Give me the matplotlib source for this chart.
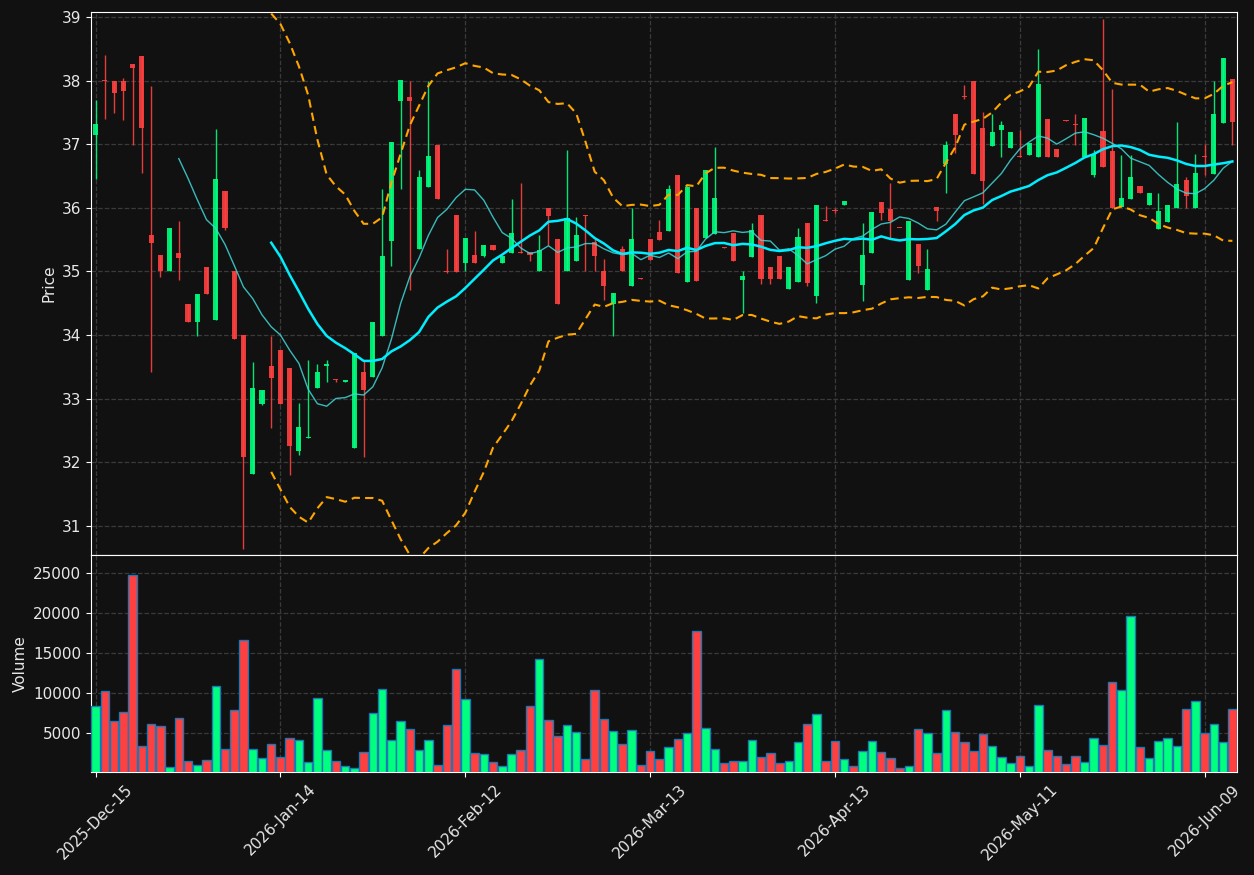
import numpy as np
import pandas as pd
import matplotlib
matplotlib.use("Agg")
import matplotlib.pyplot as plt

# ---------------- data ----------------
holidays = ["2025-12-25", "2026-01-01", "2026-01-19", "2026-02-16", "2026-04-03", "2026-05-25"]
dates = pd.bdate_range(start="2025-12-15", periods=124, freq="C", holidays=holidays)

opens = [37.15, 38.01, 38.00, 38.00, 38.26, 38.39, 35.57, 35.26, 35.00, 35.29,
         34.49, 34.21, 35.07, 34.23, 36.26, 35.00, 34.00, 31.81, 32.91, 33.52,
         33.77, 33.48, 32.17, 32.38, 33.17, 33.52, 33.31, 33.26, 32.22, 33.42,
         33.34, 33.99, 35.48, 37.68, 37.75, 35.36, 36.32, 36.99, 35.00, 35.88,
         35.14, 35.26, 35.25, 35.42, 35.14, 35.29, 35.31, 35.30, 35.00, 36.00,
         35.51, 35.00, 35.16, 35.88, 35.47, 35.00, 34.49, 35.35, 34.77, 34.89,
         35.51, 35.62, 35.64, 36.52, 34.84, 35.99, 35.52, 35.59, 35.38, 35.60,
         34.87, 35.23, 35.88, 35.07, 35.24, 34.73, 34.84, 35.76, 34.62, 35.81,
         35.96, 36.04, 36.11, 34.79, 35.29, 36.09, 35.98, 35.69, 34.86, 35.43,
         34.70, 36.01, 36.69, 37.47, 37.75, 37.99, 37.26, 36.98, 37.22, 36.94,
         36.81, 36.83, 36.80, 37.40, 36.92, 37.38, 37.32, 36.80, 36.51, 37.21,
         36.90, 36.02, 36.14, 36.34, 36.04, 35.67, 35.78, 36.00, 36.44, 36.00,
         36.81, 36.53, 37.33, 38.03]
highs = [37.70, 38.41, 38.00, 38.04, 38.26, 38.39, 37.92, 35.26, 35.68, 35.80,
         34.49, 34.64, 35.07, 37.24, 36.26, 35.00, 34.00, 33.57, 33.13, 33.98,
         33.77, 33.48, 32.93, 33.61, 33.54, 33.61, 33.31, 33.30, 33.72, 33.60,
         34.21, 36.30, 37.04, 38.01, 37.99, 36.59, 37.99, 36.99, 35.35, 35.88,
         35.53, 35.63, 35.42, 35.42, 35.25, 36.14, 36.39, 35.30, 35.58, 36.00,
         35.51, 36.91, 35.85, 35.88, 35.51, 35.20, 34.66, 35.40, 36.00, 34.89,
         35.51, 35.81, 36.36, 36.52, 36.35, 35.99, 36.59, 36.96, 35.38, 35.60,
         35.00, 35.76, 35.88, 35.07, 35.24, 35.07, 35.68, 35.76, 36.04, 36.03,
         36.00, 36.11, 36.11, 35.76, 35.93, 36.09, 36.39, 35.69, 35.79, 35.43,
         35.36, 36.01, 37.05, 37.47, 37.93, 37.99, 37.50, 37.48, 37.36, 37.20,
         37.23, 37.02, 38.50, 37.40, 36.92, 37.38, 37.47, 37.42, 36.91, 38.97,
         37.87, 36.83, 36.83, 36.34, 36.23, 36.23, 36.05, 37.35, 36.49, 36.85,
         37.00, 37.99, 38.36, 38.03]
lows = [36.46, 37.39, 37.49, 37.38, 36.99, 36.55, 33.42, 34.92, 35.00, 34.87,
        34.21, 33.99, 34.65, 34.23, 35.65, 33.94, 30.63, 31.81, 32.90, 32.54,
        32.91, 31.80, 32.12, 32.38, 33.16, 33.26, 33.26, 33.26, 32.22, 32.08,
        33.34, 33.99, 35.09, 36.30, 34.70, 35.36, 36.32, 36.14, 34.98, 34.99,
        35.00, 35.14, 35.22, 35.34, 35.14, 35.29, 35.29, 35.16, 35.00, 35.42,
        34.49, 35.00, 35.16, 35.00, 35.00, 34.55, 33.99, 35.00, 34.77, 34.88,
        35.18, 35.49, 35.64, 34.98, 34.84, 34.85, 35.52, 35.59, 35.37, 35.16,
        34.34, 35.23, 34.80, 34.80, 34.88, 34.73, 34.84, 34.77, 34.50, 35.79,
        35.92, 36.04, 36.10, 34.53, 35.29, 35.81, 35.53, 35.68, 34.86, 34.97,
        34.70, 35.80, 36.23, 36.86, 37.71, 36.53, 36.06, 36.98, 36.80, 36.94,
        36.80, 36.83, 36.80, 36.80, 36.80, 37.37, 36.99, 36.80, 36.48, 36.64,
        36.00, 36.02, 36.14, 36.23, 36.04, 35.67, 35.78, 36.00, 36.00, 36.00,
        36.52, 36.53, 37.33, 36.99]
closes = [37.32, 37.99, 37.80, 37.83, 38.20, 37.26, 35.45, 35.00, 35.68, 35.21,
          34.21, 34.64, 34.65, 36.46, 35.69, 33.94, 32.08, 33.17, 33.13, 33.32,
          32.91, 32.26, 32.56, 32.40, 33.42, 33.55, 33.30, 33.30, 33.72, 33.14,
          34.21, 35.24, 37.04, 38.01, 37.68, 36.49, 36.81, 36.14, 34.99, 34.99,
          35.53, 35.14, 35.42, 35.34, 35.25, 35.60, 35.29, 35.26, 35.33, 35.87,
          34.49, 35.84, 35.58, 35.87, 35.25, 34.77, 34.66, 35.00, 35.51, 34.88,
          35.18, 35.49, 36.29, 34.98, 36.32, 34.85, 36.59, 36.15, 35.37, 35.16,
          34.93, 35.65, 34.88, 34.88, 34.88, 35.07, 35.54, 34.82, 36.04, 35.79,
          35.95, 36.11, 36.10, 35.26, 35.93, 35.92, 35.79, 35.68, 35.79, 35.08,
          35.04, 35.95, 36.99, 37.14, 37.74, 36.53, 36.42, 37.20, 37.30, 37.20,
          36.80, 37.02, 37.95, 36.80, 36.80, 37.37, 37.30, 37.42, 36.84, 36.64,
          36.00, 36.15, 36.49, 36.23, 36.23, 35.95, 36.05, 36.38, 36.19, 36.55,
          36.80, 37.48, 38.36, 37.35]
volumes = [8460, 10330, 6500, 7630, 24750, 3380, 6130, 5960, 830, 6960,
           1580, 1000, 1710, 10960, 3000, 7960, 16630, 3000, 1880, 3630,
           2000, 4380, 4130, 1460, 9380, 2880, 1500, 880, 750, 2630,
           7500, 10500, 4130, 6500, 5500, 2880, 4130, 1000, 6000, 13000,
           9250, 2500, 2380, 1380, 880, 2380, 2880, 8460, 14250, 6630,
           4630, 6000, 5130, 1750, 10380, 6750, 5250, 3630, 5380, 1000,
           2750, 1750, 3250, 4250, 5000, 17750, 5630, 3000, 1250, 1500,
           1500, 4130, 2000, 2500, 1250, 1500, 3880, 6130, 7380, 1500,
           4000, 1750, 880, 2750, 4000, 2630, 1880, 630, 880, 5500,
           5000, 2500, 7880, 5130, 3880, 2750, 4880, 3380, 2000, 1250,
           2130, 880, 8500, 2880, 2130, 1130, 2130, 1380, 4380, 3500,
           11380, 10380, 19630, 3250, 1880, 4000, 4380, 3380, 8000, 9000,
           5000, 6130, 3880, 8000]

df = pd.DataFrame({"Open": opens, "High": highs, "Low": lows,
                   "Close": closes, "Volume": volumes}, index=dates)

# ---------------- style ----------------
BG = "#111111"
UP = "#00ff7f"
DOWN = "#ff4040"
GRID = "#3a3a3a"
TXT = "#e8e8e8"

plt.rcParams["font.family"] = ["DejaVu Sans"]

fig = plt.figure(figsize=(12.54, 8.75), dpi=100, facecolor=BG)
L, R = 91 / 1254, 1237 / 1254
y_top, y_mid, y_bot = 1 - 12 / 875, 1 - 555 / 875, 1 - 772 / 875
ax = fig.add_axes([L, y_mid, R - L, y_top - y_mid], facecolor=BG)
axv = fig.add_axes([L, y_bot, R - L, y_mid - y_bot], facecolor=BG, sharex=ax)

x = np.arange(len(df))
o = df["Open"].values
c = df["Close"].values
h = df["High"].values
lo = df["Low"].values
up = c >= o
cols = np.where(up, UP, DOWN)

# wicks
ax.vlines(x, lo, h, colors=cols, linewidth=1.0, alpha=0.9, zorder=3)
# bodies
body_bottom = np.minimum(o, c)
body_h = np.maximum(np.abs(c - o), 0.012)
ax.bar(x, body_h, bottom=body_bottom, width=0.55, color=cols, alpha=0.9,
       linewidth=0, zorder=4)

# moving averages and Bollinger bands
close_s = df["Close"]
sma10 = close_s.rolling(10).mean()
sma20 = close_s.rolling(20).mean()
std20 = close_s.rolling(20).std(ddof=0)
ax.plot(x, sma10.values, color="#40d8d8", linewidth=1.0, alpha=0.85, zorder=5)
ax.plot(x, sma20.values, color="#00eeff", linewidth=1.8, zorder=6)
ax.plot(x, (sma20 + 2 * std20).values, color="#ffa500", linewidth=1.5,
        linestyle=(0, (4, 2.5)), zorder=5)
ax.plot(x, (sma20 - 2 * std20).values, color="#ffa500", linewidth=1.5,
        linestyle=(0, (4, 2.5)), zorder=5)

# volume
axv.bar(x, df["Volume"].values, width=0.92, color=cols, edgecolor="#1f77b4",
        linewidth=1.0, zorder=3)

# limits
ax.set_xlim(-0.5, len(df) - 0.5)
ax.set_ylim(30.54, 39.08)
axv.set_ylim(190, 27225)

tick_idx = list(range(0, len(df), 20))
axv.set_xticks(tick_idx)
axv.set_xticklabels([dates[i].strftime("%Y-%b-%d") for i in tick_idx],
                    rotation=45, ha="center", fontsize=11, color=TXT)
plt.setp(ax.get_xticklabels(), visible=False)
ax.set_yticks(range(31, 40))
axv.set_yticks([5000, 10000, 15000, 20000, 25000])

for a in (ax, axv):
    a.grid(True, color=GRID, linestyle="--", linewidth=0.9)
    a.set_axisbelow(True)
    for s in a.spines.values():
        s.set_color("white")
    a.tick_params(colors="white", labelcolor=TXT, labelsize=11)

ax.set_ylabel("Price", color=TXT, fontsize=11)
axv.set_ylabel("Volume", color=TXT, fontsize=11)

fig.savefig("out.png", dpi=100, facecolor=BG)
